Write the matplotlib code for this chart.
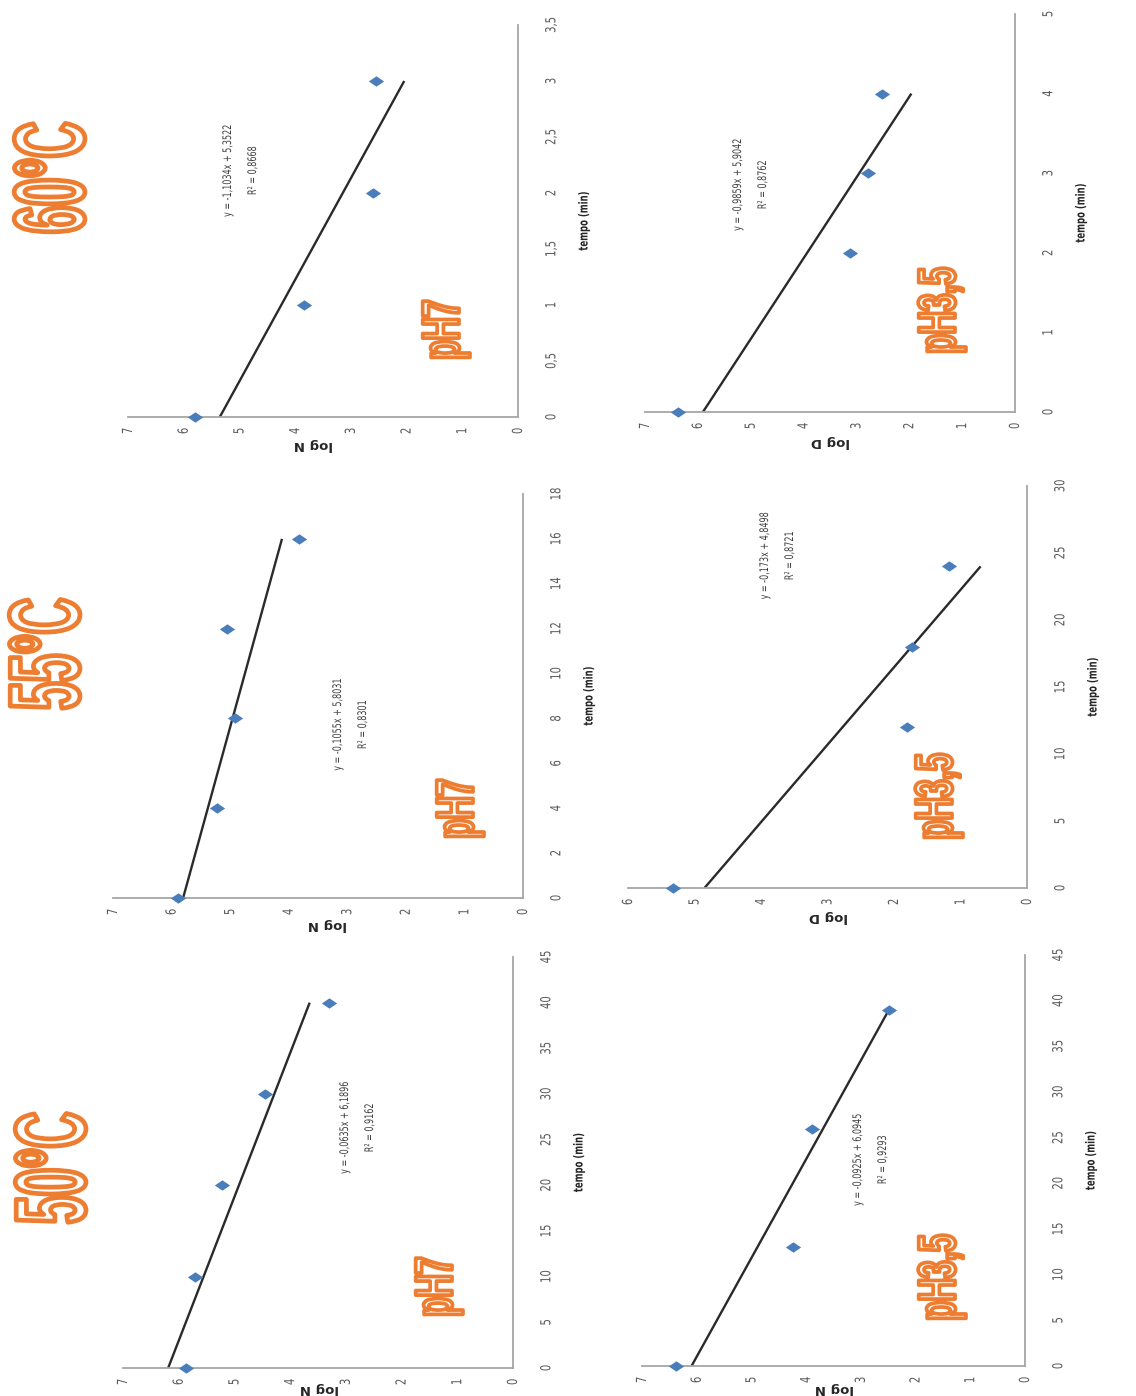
import matplotlib
matplotlib.use("Agg")
import matplotlib.pyplot as plt
import matplotlib.colors as mcolors
from matplotlib.patheffects import AbstractPathEffect
from matplotlib.transforms import Affine2D
from matplotlib.ticker import MultipleLocator, FuncFormatter
from matplotlib.path import Path

# ---------------- data ----------------
temps = ["50°C", "55°C", "60°C"]
ph_labels = ["pH7", "pH3,5"]

t_50_ph7 = [0, 10, 20, 30, 40]
logN_50_ph7 = [5.87, 5.71, 5.22, 4.45, 3.30]
t_50_ph35 = [0, 13, 26, 39]
logN_50_ph35 = [6.38, 4.24, 3.89, 2.48]

t_55_ph7 = [0, 4, 8, 12, 16]
logN_55_ph7 = [5.89, 5.22, 4.91, 5.05, 3.83]
t_55_ph35 = [0, 12, 18, 24]
logD_55_ph35 = [5.33, 1.80, 1.73, 1.17]

t_60_ph7 = [0, 1, 2, 3]
logN_60_ph7 = [5.80, 3.84, 2.60, 2.54]
t_60_ph35 = [0, 2, 3, 4]
logD_60_ph35 = [6.37, 3.12, 2.79, 2.51]

# linear trend lines (slope, intercept, R²)
slope_50 = [-0.0635, -0.0925]
icpt_50 = [6.1896, 6.0945]
r2_50 = [0.9162, 0.9293]
slope_55 = [-0.1055, -0.173]
icpt_55 = [5.8031, 4.8498]
r2_55 = [0.8301, 0.8721]
slope_60 = [-1.1034, -0.9859]
icpt_60 = [5.3522, 5.9042]
r2_60 = [0.8668, 0.8762]

# axis extents / tick steps
logmax = {"50/7": 7, "50/3": 7, "55/7": 7, "55/3": 6, "60/7": 7, "60/3": 7}
tmax = {"50/7": 45, "50/3": 45, "55/7": 18, "55/3": 30, "60/7": 3.5, "60/3": 5}
tstep = {"50/7": 5, "50/3": 5, "55/7": 2, "55/3": 5, "60/7": 0.5, "60/3": 1}
ylabels = {"50/7": "log N", "50/3": "log N", "55/7": "log N", "55/3": "log D",
           "60/7": "log N", "60/3": "log D"}

series = {
    "50/7": (t_50_ph7, logN_50_ph7, slope_50[0], icpt_50[0], r2_50[0]),
    "50/3": (t_50_ph35, logN_50_ph35, slope_50[1], icpt_50[1], r2_50[1]),
    "55/7": (t_55_ph7, logN_55_ph7, slope_55[0], icpt_55[0], r2_55[0]),
    "55/3": (t_55_ph35, logD_55_ph35, slope_55[1], icpt_55[1], r2_55[1]),
    "60/7": (t_60_ph7, logN_60_ph7, slope_60[0], icpt_60[0], r2_60[0]),
    "60/3": (t_60_ph35, logD_60_ph35, slope_60[1], icpt_60[1], r2_60[1]),
}

# ---------------- layout (pixels) ----------------
W, H = 1136, 1396
# box: left, right, top, bottom ; eq: centre of equation ; ph: centre of pH tag ; yl: centre of axis title
layout = {
    "50/7": dict(box=(123, 513, 957, 1368), eq=(357, 1128), ph=(438, 1287), yl=(319, 1389)),
    "50/3": dict(box=(642, 1025, 955, 1366), eq=(870, 1160), ph=(941, 1278), yl=(834, 1389)),
    "55/7": dict(box=(113, 523, 494, 898), eq=(350, 725), ph=(459, 809), yl=(327, 925)),
    "55/3": dict(box=(628, 1027, 486, 888), eq=(777, 556), ph=(938, 797), yl=(828, 917)),
    "60/7": dict(box=(128, 518, 25, 417), eq=(240, 171), ph=(445, 330), yl=(313, 445)),
    "60/3": dict(box=(645, 1015, 14, 412), eq=(750, 185), ph=(941, 311), yl=(830, 442)),
}
title_pos = {"50°C": (59, 1168), "55°C": (53, 654), "60°C": (58, 178)}

ORANGE = "#ED7D31"
BLUE = "#4A7EBB"
AXIS = "#A6A6A6"
TICKC = "#595959"


def fx(x):
    return x / W


def fy(y):
    return 1 - y / H


def _squeeze_transform(tpath, affine, s):
    ext = tpath.get_extents()
    cx = 0.5 * (ext.x0 + ext.x1)
    cy = 0.5 * (ext.y0 + ext.y1)
    return Affine2D().translate(-cx, -cy).scale(s, 1.0).translate(cx, cy) + affine


class Condensed(AbstractPathEffect):
    """Draws glyphs narrowed along the reading direction."""

    def __init__(self, squeeze):
        super().__init__()
        self.squeeze = squeeze

    def draw_path(self, renderer, gc, tpath, affine, rgbFace=None):
        renderer.draw_path(gc, tpath, _squeeze_transform(tpath, affine, self.squeeze), rgbFace)


class HollowCondensed(AbstractPathEffect):
    """Outlined glyphs (white fill, coloured outline), narrowed along the reading direction."""

    def __init__(self, squeeze, edge, lw, face="white"):
        super().__init__()
        self.squeeze = squeeze
        self.edge = edge
        self.lw = lw
        self.face = face

    def draw_path(self, renderer, gc, tpath, affine, rgbFace=None):
        tr = _squeeze_transform(tpath, affine, self.squeeze)
        g1 = renderer.new_gc()
        g1.copy_properties(gc)
        g1.set_linewidth(0)
        renderer.draw_path(g1, tpath, tr, mcolors.to_rgba(self.face))
        g1.restore()
        g2 = renderer.new_gc()
        g2.copy_properties(gc)
        g2.set_linewidth(self.lw)
        g2.set_foreground(self.edge)
        g2.set_joinstyle("round")
        renderer.draw_path(g2, tpath, tr, None)
        g2.restore()


fmt = FuncFormatter(lambda v, p: f"{v:g}".replace(".", ","))
diamond = Path([(-1, 0), (0, 0.68), (1, 0), (0, -0.68), (-1, 0)],
               [Path.MOVETO, Path.LINETO, Path.LINETO, Path.LINETO, Path.CLOSEPOLY])

fig = plt.figure(figsize=(W / 100, H / 100), dpi=100)
fig.patch.set_facecolor("white")

for key, (t, y, a, b, r2) in series.items():
    L, R, T, B = layout[key]["box"]
    ax = fig.add_axes([fx(L), fy(B), (R - L) / W, (B - T) / H])
    # horizontal: log value (reversed), vertical: time
    ax.set_xlim(logmax[key], 0)
    ax.set_ylim(0, tmax[key])
    ax.xaxis.set_major_locator(MultipleLocator(1))
    ax.yaxis.set_major_locator(MultipleLocator(tstep[key]))
    ax.xaxis.set_major_formatter(fmt)
    ax.yaxis.set_major_formatter(fmt)
    for s in ("left", "top"):
        ax.spines[s].set_visible(False)
    for s in ("right", "bottom"):
        ax.spines[s].set_color(AXIS)
        ax.spines[s].set_linewidth(1.3)
    ax.yaxis.tick_right()
    ax.tick_params(axis="both", length=0, labelcolor=TICKC, labelsize=10)
    ax.tick_params(axis="x", pad=10, labelrotation=90)
    ax.tick_params(axis="y", pad=24, labelrotation=90)
    for tk in ax.xaxis.get_major_ticks() + ax.yaxis.get_major_ticks():
        for lab in (tk.label1, tk.label2):
            lab.set_va("center")
            lab.set_ha("center")
            lab.set_path_effects([Condensed(0.72)])
    ax.patch.set_alpha(0)

    # trend line over the data range
    tt = [min(t), max(t)]
    ax.plot([a * v + b for v in tt], tt, color="#2A2A2A", lw=1.7, solid_capstyle="butt", zorder=2)
    ax.plot(y, t, linestyle="none", marker=diamond, markersize=11, color=BLUE,
            markeredgewidth=0, zorder=3, clip_on=False)

    # trend equation
    ex, ey = layout[key]["eq"]
    eq = f"y = {str(a).replace('.', ',')}x + {str(b).replace('.', ',')}\nR² = {str(r2).replace('.', ',')}"
    e = fig.text(fx(ex), fy(ey), eq, rotation=90, ha="center", va="center", multialignment="center",
                 fontsize=8.5, color="#404040", linespacing=2.2)
    e.set_path_effects([Condensed(0.68)])

    # axis titles
    tl = fig.text(fx(R + 66), fy(0.5 * (T + B)), "tempo (min)", rotation=90, ha="center", va="center",
                  fontsize=9, fontweight="bold", color="#262626")
    tl.set_path_effects([Condensed(0.68)])
    lx, ly = layout[key]["yl"]
    fig.text(fx(lx), fy(ly), ylabels[key], rotation=180, ha="center", va="center",
             fontsize=9.5, fontweight="bold", color="#262626")

    # pH tag
    px, py = layout[key]["ph"]
    tag = ph_labels[0] if key.endswith("/7") else ph_labels[1]
    txt = fig.text(fx(px), fy(py), tag, rotation=90, ha="center", va="center",
                   fontsize=38, family=["Liberation Sans", "DejaVu Sans"], fontweight="bold",
                   color=ORANGE)
    txt.set_path_effects([HollowCondensed(0.6, ORANGE, 2.7)])

# temperature headings
for name in temps:
    x, y = title_pos[name]
    txt = fig.text(fx(x), fy(y), name, rotation=90, ha="center", va="center",
                   fontsize=72, family=["Liberation Sans", "DejaVu Sans"], fontweight="bold",
                   color=ORANGE)
    txt.set_path_effects([HollowCondensed(0.5, ORANGE, 3.4)])

fig.savefig("out.png", dpi=100, facecolor="white")
